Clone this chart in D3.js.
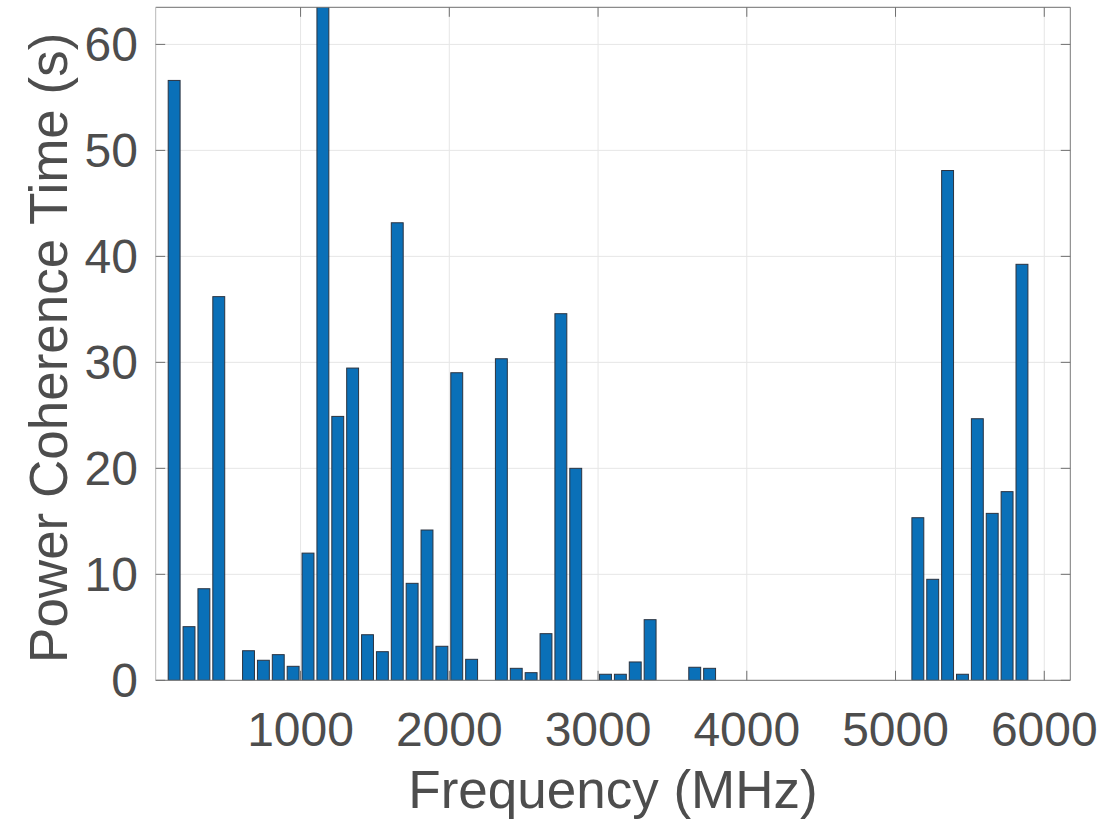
<!DOCTYPE html>
<html>
<head>
<meta charset="utf-8">
<script src="https://cdn.jsdelivr.net/npm/d3@7"></script>
<style>
  body { margin: 0; background: #fff; }
  text { font-family: "Liberation Sans", Arial, Helvetica, sans-serif; fill: #4d4d4d; }
</style>
</head>
<body>
<svg width="1119" height="826"></svg>
<script>
// frequency bins (MHz) and measured coherence times (s)
let freqs = [150, 250, 350, 450, 550, 650, 750, 850, 950, 1050,
  1150, 1250, 1350, 1450, 1550, 1650, 1750, 1850, 1950, 2050,
  2150, 2250, 2350, 2450, 2550, 2650, 2750, 2850, 2950, 3050,
  3150, 3250, 3350, 3450, 3550, 3650, 3750, 3850, 3950, 4050,
  4150, 4250, 4350, 4450, 4550, 4650, 4750, 4850, 4950, 5050,
  5150, 5250, 5350, 5450, 5550, 5650, 5750, 5850];
let times = [56.6, 5.06, 8.64, 36.2, 0, 2.79, 1.89, 2.42, 1.32, 12.0,
  66, 24.9, 29.46, 4.3, 2.7, 43.17, 9.15, 14.18, 3.21, 29.02,
  1.98, 0, 30.34, 1.13, 0.72, 4.4, 34.59, 20.0, 0, 0.57,
  0.57, 1.73, 5.72, 0, 0, 1.23, 1.13, 0, 0, 0,
  0, 0, 0, 0, 0, 0, 0, 0, 0, 0,
  15.34, 9.53, 48.1, 0.57, 24.68, 15.75, 17.8, 39.25];
let xTicks = [1000, 2000, 3000, 4000, 5000, 6000];
let yTicks = [0, 10, 20, 30, 40, 50, 60];

let pLeft = 155.7, pRight = 1070.3, pTop = 7.3, pBottom = 680.3;
let tickLen = 9.5;

let x = d3.scaleLinear().domain([26, 6175]).range([pLeft, pRight]);
let y = d3.scaleLinear().domain([0, 63.5]).range([pBottom, pTop]);

let svg = d3.select('svg');

svg.append('defs').append('clipPath').attr('id', 'plot')
  .append('rect')
  .attr('x', pLeft).attr('y', pTop)
  .attr('width', pRight - pLeft).attr('height', pBottom - pTop);

// grid
svg.append('g')
  .selectAll('line')
  .data(xTicks)
  .join('line')
  .attr('x1', d => x(d)).attr('x2', d => x(d))
  .attr('y1', pTop).attr('y2', pBottom)
  .style('stroke', '#e6e6e6');

svg.append('g')
  .selectAll('line')
  .data(yTicks.slice(1))
  .join('line')
  .attr('x1', pLeft).attr('x2', pRight)
  .attr('y1', d => y(d)).attr('y2', d => y(d))
  .style('stroke', '#e6e6e6');

// bars
let data = freqs.map((f, i) => ({ f: f, t: times[i] }));

svg.append('g')
  .attr('clip-path', 'url(#plot)')
  .selectAll('rect')
  .data(data.filter(d => d.t > 0))
  .join('rect')
  .attr('x', d => x(d.f - 40))
  .attr('width', d => x(d.f + 40) - x(d.f - 40))
  .attr('y', d => y(d.t))
  .attr('height', d => y(0) - y(d.t))
  .style('fill', '#0a70b8')
  .style('stroke', '#2b3340')
  .style('stroke-width', 1);

// box
svg.append('line').attr('x1', pLeft).attr('x2', pRight).attr('y1', pTop).attr('y2', pTop).style('stroke', '#6e6e6e');
svg.append('line').attr('x1', pLeft).attr('x2', pRight).attr('y1', pBottom).attr('y2', pBottom).style('stroke', '#6e6e6e');
svg.append('line').attr('x1', pRight).attr('x2', pRight).attr('y1', pTop).attr('y2', pBottom).style('stroke', '#7a7a7a');
svg.append('line').attr('x1', pLeft).attr('x2', pLeft).attr('y1', pTop).attr('y2', pBottom).style('stroke', '#b8b8b8');

// ticks, inward on all four sides
let ticks = svg.append('g').style('stroke', '#707070');
xTicks.forEach(function(t) {
  ticks.append('line').attr('x1', x(t)).attr('x2', x(t)).attr('y1', pBottom).attr('y2', pBottom - tickLen);
  ticks.append('line').attr('x1', x(t)).attr('x2', x(t)).attr('y1', pTop).attr('y2', pTop + tickLen);
});
yTicks.forEach(function(t) {
  ticks.append('line').attr('x1', pLeft).attr('x2', pLeft + tickLen).attr('y1', y(t)).attr('y2', y(t));
  ticks.append('line').attr('x1', pRight).attr('x2', pRight - tickLen).attr('y1', y(t)).attr('y2', y(t));
});

// tick labels
svg.append('g')
  .selectAll('text')
  .data(xTicks)
  .join('text')
  .attr('x', d => x(d))
  .attr('y', 746)
  .attr('text-anchor', 'middle')
  .style('font-size', '48px')
  .text(d => d);

svg.append('g')
  .selectAll('text')
  .data(yTicks)
  .join('text')
  .attr('x', 138)
  .attr('y', d => y(d))
  .attr('dy', '0.35em')
  .attr('text-anchor', 'end')
  .style('font-size', '48px')
  .text(d => d);

// axis titles
svg.append('text')
  .attr('x', (pLeft + pRight) / 2)
  .attr('y', 808)
  .attr('text-anchor', 'middle')
  .style('font-size', '53px')
  .text('Frequency (MHz)');

svg.append('text')
  .attr('transform', 'translate(67,' + ((pTop + pBottom) / 2 + 4) + ') rotate(-90)')
  .attr('text-anchor', 'middle')
  .style('font-size', '53px')
  .text('Power Coherence Time (s)');
</script>
</body>
</html>
